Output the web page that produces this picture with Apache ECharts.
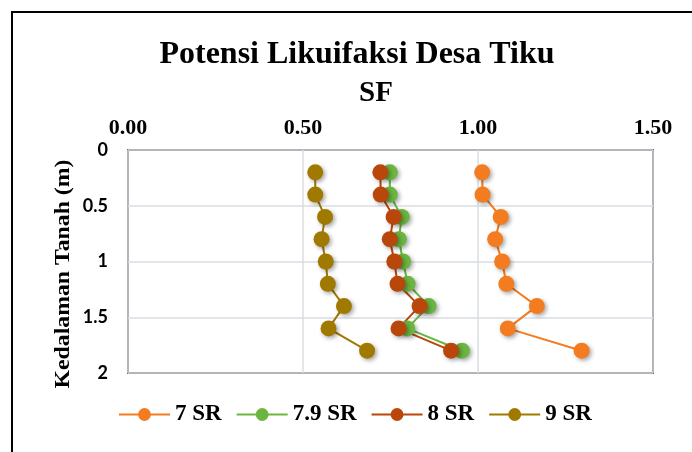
<!DOCTYPE html>
<html>
<head>
<meta charset="utf-8">
<script src="https://cdn.jsdelivr.net/npm/echarts@6/dist/echarts.min.js"></script>
<style>
  html, body { margin: 0; padding: 0; background: #fff; }
  #chart { width: 692px; height: 452px; }
</style>
</head>
<body>
<div id="chart"></div>
<script>
// kedalaman (m) untuk setiap titik
var depths = [0.2, 0.4, 0.6, 0.8, 1.0, 1.2, 1.4, 1.6, 1.8];
// nilai SF per skenario gempa
var sf7 = [1.012, 1.013, 1.065, 1.049, 1.069, 1.081, 1.168, 1.085, 1.296];
var sf79 = [0.748, 0.748, 0.782, 0.774, 0.786, 0.799, 0.859, 0.798, 0.954];
var sf8 = [0.721, 0.722, 0.759, 0.748, 0.761, 0.770, 0.833, 0.773, 0.923];
var sf9 = [0.535, 0.535, 0.563, 0.553, 0.565, 0.571, 0.617, 0.573, 0.683];
var seriesNames = ['7 SR', '7.9 SR', '8 SR', '9 SR'];
var seriesColors = ['#F37B20', '#6BB540', '#B9470B', '#A07A00'];

var serif = '"Liberation Serif", "Times New Roman", serif';

function pairs(vals) {
    var out = [];
    for (var i = 0; i < vals.length; i++) {
        out.push([vals[i], depths[i]]);
    }
    return out;
}

function makeSeries(name, vals, color) {
    return {
        name: name,
        type: 'line',
        data: pairs(vals),
        symbol: 'circle',
        symbolSize: 16,
        color: color,
        lineStyle: { width: 2, color: color },
        itemStyle: {
            color: color,
            shadowBlur: 4,
            shadowOffsetX: 2,
            shadowOffsetY: 2,
            shadowColor: 'rgba(0,0,0,0.35)'
        },
        emphasis: { disabled: true },
        animation: false
    };
}

var allVals = [sf7, sf79, sf8, sf9];
var series = [];
for (var k = 0; k < seriesNames.length; k++) {
    series.push(makeSeries(seriesNames[k], allVals[k], seriesColors[k]));
}

var chart = echarts.init(document.getElementById('chart'));
chart.setOption({
    animation: false,
    title: [{
        text: 'Potensi Likuifaksi Desa Tiku',
        left: 352,
        top: 34,
        textAlign: 'center',
        textStyle: { fontFamily: serif, fontWeight: 'bold', fontSize: 32, color: '#000' }
    }, {
        text: 'SF',
        left: 371,
        top: 74,
        textAlign: 'center',
        textStyle: { fontFamily: serif, fontWeight: 'bold', fontSize: 29, color: '#000' }
    }],
    graphic: [{
        type: 'rect',
        shape: { x: 12, y: 12, width: 700, height: 460 },
        style: { fill: 'none', stroke: '#000', lineWidth: 2 },
        silent: true
    }, {
        type: 'text',
        x: 63,
        y: 274,
        rotation: Math.PI / 2,
        scaleX: 1.08,
        style: {
            text: 'Kedalaman Tanah (m)',
            fontFamily: serif,
            fontWeight: 'bold',
            fontSize: 22,
            fill: '#000',
            align: 'center',
            verticalAlign: 'middle'
        }
    }],
    legend: {
        data: seriesNames,
        left: 113,
        top: 398,
        itemWidth: 51,
        itemHeight: 16,
        itemGap: 14,
        textStyle: { fontFamily: serif, fontWeight: 'bold', fontSize: 23, color: '#000' }
    },
    grid: {
        left: 128,
        top: 150,
        width: 525,
        height: 223,
        show: true,
        borderColor: '#000',
        borderWidth: 1.5
    },
    xAxis: {
        type: 'value',
        position: 'top',
        min: 0,
        max: 1.5,
        interval: 0.5,
        axisLine: { show: false },
        axisTick: { show: false },
        splitLine: { lineStyle: { color: '#D9DEE5', width: 1.5 } },
        axisLabel: {
            margin: 11,
            fontFamily: serif,
            fontWeight: 'bold',
            fontSize: 22,
            color: '#000',
            formatter: function (v) { return v.toFixed(2); }
        }
    },
    yAxis: {
        type: 'value',
        inverse: true,
        min: 0,
        max: 2,
        interval: 0.5,
        axisLine: { show: false },
        axisTick: { show: false },
        splitLine: { lineStyle: { color: '#D9DEE5', width: 1.5 } },
        axisLabel: {
            margin: 20,
            fontFamily: 'Lato, "Open Sans", sans-serif',
            fontWeight: 'bold',
            fontSize: 18,
            color: '#000'
        }
    },
    series: series
});
</script>
</body>
</html>
